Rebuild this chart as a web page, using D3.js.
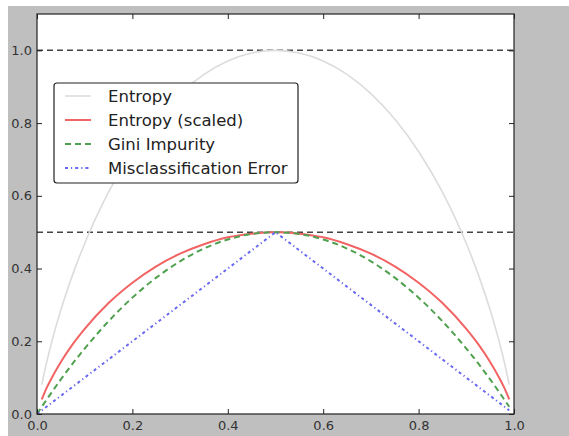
<!DOCTYPE html>
<html><head><meta charset="utf-8">
<script src="https://cdn.jsdelivr.net/npm/d3@7"></script>
<style>
html,body{margin:0;padding:0;background:#fff;}
svg{display:block;font-family:"DejaVu Sans",sans-serif;}
</style></head>
<body>
<svg id="c" width="569" height="436"></svg>
<script>
const pValues   = [0, 0.01, 0.02, 0.03, 0.05, 0.075, 0.1, 0.15, 0.2, 0.25, 0.3, 0.35, 0.4, 0.45, 0.5, 0.55, 0.6, 0.65, 0.7, 0.75, 0.8, 0.85, 0.9, 0.925, 0.95, 0.97, 0.98, 0.99];
const entropy   = [null, 0.081, 0.141, 0.194, 0.286, 0.384, 0.469, 0.610, 0.722, 0.811, 0.881, 0.934, 0.971, 0.993, 1.0, 0.993, 0.971, 0.934, 0.881, 0.811, 0.722, 0.610, 0.469, 0.384, 0.286, 0.194, 0.141, 0.081];
const entropyScaled = [null, 0.040, 0.071, 0.097, 0.143, 0.192, 0.234, 0.305, 0.361, 0.406, 0.441, 0.467, 0.486, 0.496, 0.5, 0.496, 0.486, 0.467, 0.441, 0.406, 0.361, 0.305, 0.234, 0.192, 0.143, 0.097, 0.071, 0.040];
const gini      = [0, 0.020, 0.039, 0.058, 0.095, 0.139, 0.18, 0.255, 0.32, 0.375, 0.42, 0.455, 0.48, 0.495, 0.5, 0.495, 0.48, 0.455, 0.42, 0.375, 0.32, 0.255, 0.18, 0.139, 0.095, 0.058, 0.039, 0.020];
const misclass  = [0, 0.01, 0.02, 0.03, 0.05, 0.075, 0.1, 0.15, 0.2, 0.25, 0.3, 0.35, 0.4, 0.45, 0.5, 0.45, 0.4, 0.35, 0.3, 0.25, 0.2, 0.15, 0.1, 0.075, 0.05, 0.03, 0.02, 0.01];
const refLines  = [0.5, 1.0];
const xTicks    = [0.0, 0.2, 0.4, 0.6, 0.8, 1.0];
const yTicks    = [0.0, 0.2, 0.4, 0.6, 0.8, 1.0];
const seriesNames = ["Entropy", "Entropy (scaled)", "Gini Impurity", "Misclassification Error"];

const series = [
  {name: seriesNames[0], vals: entropy, color: "#dcdcdc", dash: null, curve: d3.curveMonotoneX, w: 1.6},
  {name: seriesNames[1], vals: entropyScaled, color: "#f26464", dash: null, curve: d3.curveMonotoneX, w: 2},
  {name: seriesNames[2], vals: gini, color: "#4fa04f", dash: "6,4", curve: d3.curveMonotoneX, w: 2},
  {name: seriesNames[3], vals: misclass, color: "#6868f0", dash: "3,3,1.2,3", curve: d3.curveLinear, w: 2}
];

const svg = d3.select("#c");
svg.append("rect").attr("x", 8).attr("y", 6).attr("width", 561).attr("height", 430).attr("fill", "#bfbfbf");

const L = 37, R = 514, T = 14, B = 414;
const x = d3.scaleLinear().domain([0, 1]).range([L, R]);
const y = d3.scaleLinear().domain([0, 1.1]).range([B, T]);

svg.append("rect").attr("x", L).attr("y", T).attr("width", R - L).attr("height", B - T).attr("fill", "#fff");

svg.append("clipPath").attr("id", "clip").append("rect").attr("x", L).attr("y", T).attr("width", R - L).attr("height", B - T);
const plot = svg.append("g").attr("clip-path", "url(#clip)");

refLines.forEach(v => {
  plot.append("line").attr("x1", L).attr("x2", R).attr("y1", y(v)).attr("y2", y(v))
    .attr("stroke", "#444").attr("stroke-width", 1.5).attr("stroke-dasharray", "6,4");
});

series.forEach(s => {
  const data = pValues.map((p, i) => ({p, v: s.vals[i]}));
  const line = d3.line().defined(d => d.v !== null).x(d => x(d.p)).y(d => y(d.v)).curve(s.curve);
  plot.append("path").datum(data).attr("d", line).attr("fill", "none")
    .attr("stroke", s.color).attr("stroke-width", s.w)
    .attr("stroke-dasharray", s.dash);
});

svg.append("rect").attr("x", L).attr("y", T).attr("width", R - L).attr("height", B - T)
  .attr("fill", "none").attr("stroke", "#222").attr("stroke-width", 1.2);

const fmt = d3.format(".1f");
const axB = svg.append("g").attr("transform", `translate(0,${B})`)
  .call(d3.axisBottom(x).tickValues(xTicks).tickFormat(fmt).tickSizeInner(-5).tickSizeOuter(0).tickPadding(7));
const axT = svg.append("g").attr("transform", `translate(0,${T})`)
  .call(d3.axisTop(x).tickValues(xTicks).tickFormat("").tickSizeInner(-5).tickSizeOuter(0));
const axLft = svg.append("g").attr("transform", `translate(${L},0)`)
  .call(d3.axisLeft(y).tickValues(yTicks).tickFormat(fmt).tickSizeInner(-5).tickSizeOuter(0).tickPadding(5));
const axRgt = svg.append("g").attr("transform", `translate(${R},0)`)
  .call(d3.axisRight(y).tickValues(yTicks).tickFormat("").tickSizeInner(-5).tickSizeOuter(0));
[axB, axT, axLft, axRgt].forEach(a => {
  a.select(".domain").remove();
  a.selectAll(".tick line").attr("stroke", "#222");
  a.selectAll("text").attr("font-family", "DejaVu Sans").attr("font-size", 13).attr("fill", "#333");
});

const lg = svg.append("g");
lg.append("rect").attr("x", 54).attr("y", 83).attr("width", 244).attr("height", 100)
  .attr("rx", 3).attr("fill", "#fff").attr("stroke", "#222").attr("stroke-width", 1.2);
series.forEach((s, i) => {
  const cy = 96 + i * 24;
  lg.append("line").attr("x1", 65).attr("x2", 91).attr("y1", cy).attr("y2", cy)
    .attr("stroke", s.color).attr("stroke-width", s.w).attr("stroke-dasharray", s.dash);
  lg.append("text").attr("x", 108).attr("y", cy).attr("dy", "0.36em")
    .attr("font-size", 16.5).attr("fill", "#222").text(s.name);
});
</script>
</body></html>
